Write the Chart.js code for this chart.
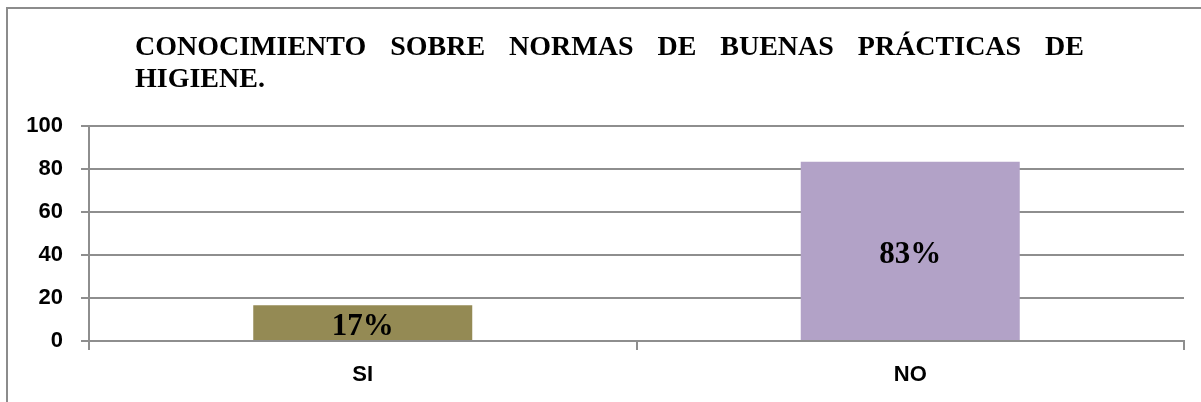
<!DOCTYPE html>
<html>
<head>
<meta charset="utf-8">
<script src="https://cdn.jsdelivr.net/npm/chart.js@4/dist/chart.umd.min.js"></script>
<style>
  html, body { margin: 0; padding: 0; background: #ffffff; }
  #wrap { width: 1201px; height: 402px; position: relative; }
</style>
</head>
<body>
<div id="wrap"><canvas id="c" width="1201" height="402"></canvas></div>
<script>
const categories = ['SI', 'NO'];
const values = [16.67, 83.33];
const barColors = ['#948A54', '#B2A2C7'];
const yTickValues = [0, 20, 40, 60, 80, 100];
const titleLine1 = ['CONOCIMIENTO', 'SOBRE', 'NORMAS', 'DE', 'BUENAS', 'PRÁCTICAS', 'DE'];
const titleLine2 = 'HIGIENE.';

const GRID = '#8e8e8e';

const framePlugin = {
  id: 'frame',
  beforeDraw(chart) {
    const ctx = chart.ctx;
    ctx.save();
    ctx.fillStyle = '#ffffff';
    ctx.fillRect(0, 0, chart.width, chart.height);
    ctx.strokeStyle = '#8c8c8c';
    ctx.lineWidth = 2;
    ctx.beginPath();
    ctx.moveTo(7, 402);
    ctx.lineTo(7, 8);
    ctx.lineTo(1201, 8);
    ctx.stroke();
    ctx.restore();
  }
};

const titlePlugin = {
  id: 'justTitle',
  afterDraw(chart) {
    const ctx = chart.ctx;
    ctx.save();
    ctx.fillStyle = '#000000';
    ctx.font = 'bold 28px "Liberation Serif", "Times New Roman", serif';
    ctx.textBaseline = 'alphabetic';
    ctx.textAlign = 'left';
    const left = 135, right = 1084;
    const widths = titleLine1.map(w => ctx.measureText(w).width);
    const total = widths.reduce((a, b) => a + b, 0);
    const gap = (right - left - total) / (titleLine1.length - 1);
    let x = left;
    titleLine1.forEach((w, i) => {
      ctx.fillText(w, x, 55);
      x += widths[i] + gap;
    });
    ctx.fillText(titleLine2, left, 87);
    ctx.restore();
  }
};

const valueLabelPlugin = {
  id: 'valueLabels',
  afterDatasetsDraw(chart) {
    const ctx = chart.ctx;
    const meta = chart.getDatasetMeta(0);
    ctx.save();
    ctx.fillStyle = '#000000';
    ctx.font = 'bold 31px "Liberation Serif", "Times New Roman", serif';
    ctx.textAlign = 'center';
    ctx.textBaseline = 'alphabetic';
    meta.data.forEach((bar, i) => {
      const cy = (bar.y + bar.base) / 2;
      ctx.fillText(Math.round(values[i]) + '%', bar.x, cy + 12.5);
    });
    ctx.restore();
  }
};

new Chart(document.getElementById('c'), {
  type: 'bar',
  data: {
    labels: categories,
    datasets: [{
      data: values,
      backgroundColor: barColors,
      borderWidth: 0,
      categoryPercentage: 1.0,
      barPercentage: 0.4
    }]
  },
  options: {
    responsive: false,
    animation: false,
    devicePixelRatio: 1,
    layout: { padding: { top: 126, right: 17, bottom: 0, left: 0 } },
    plugins: {
      legend: { display: false },
      title: { display: false },
      tooltip: { enabled: false }
    },
    scales: {
      x: {
        offset: true,
        grid: {
          display: true,
          offset: true,
          drawOnChartArea: false,
          drawTicks: true,
          tickLength: 9,
          color: GRID,
          lineWidth: 2
        },
        border: { display: true, color: GRID, width: 2 },
        ticks: {
          color: '#000000',
          padding: 12,
          font: { family: '"Liberation Sans", Arial, sans-serif', size: 22, weight: 'bold' }
        },
        afterFit(scale) { scale.height = 61; }
      },
      y: {
        min: 0,
        max: 100,
        afterBuildTicks(scale) { scale.ticks = yTickValues.map(v => ({ value: v })); },
        grid: {
          display: true,
          drawTicks: true,
          tickLength: 8,
          color: GRID,
          lineWidth: 2
        },
        border: { display: true, color: GRID, width: 2 },
        ticks: {
          color: '#000000',
          padding: 18,
          font: { family: '"Liberation Sans", Arial, sans-serif', size: 22, weight: 'bold' },
          callback: (v) => String(v)
        },
        afterFit(scale) { scale.width = 89; }
      }
    }
  },
  plugins: [framePlugin, titlePlugin, valueLabelPlugin]
});
</script>
</body>
</html>
